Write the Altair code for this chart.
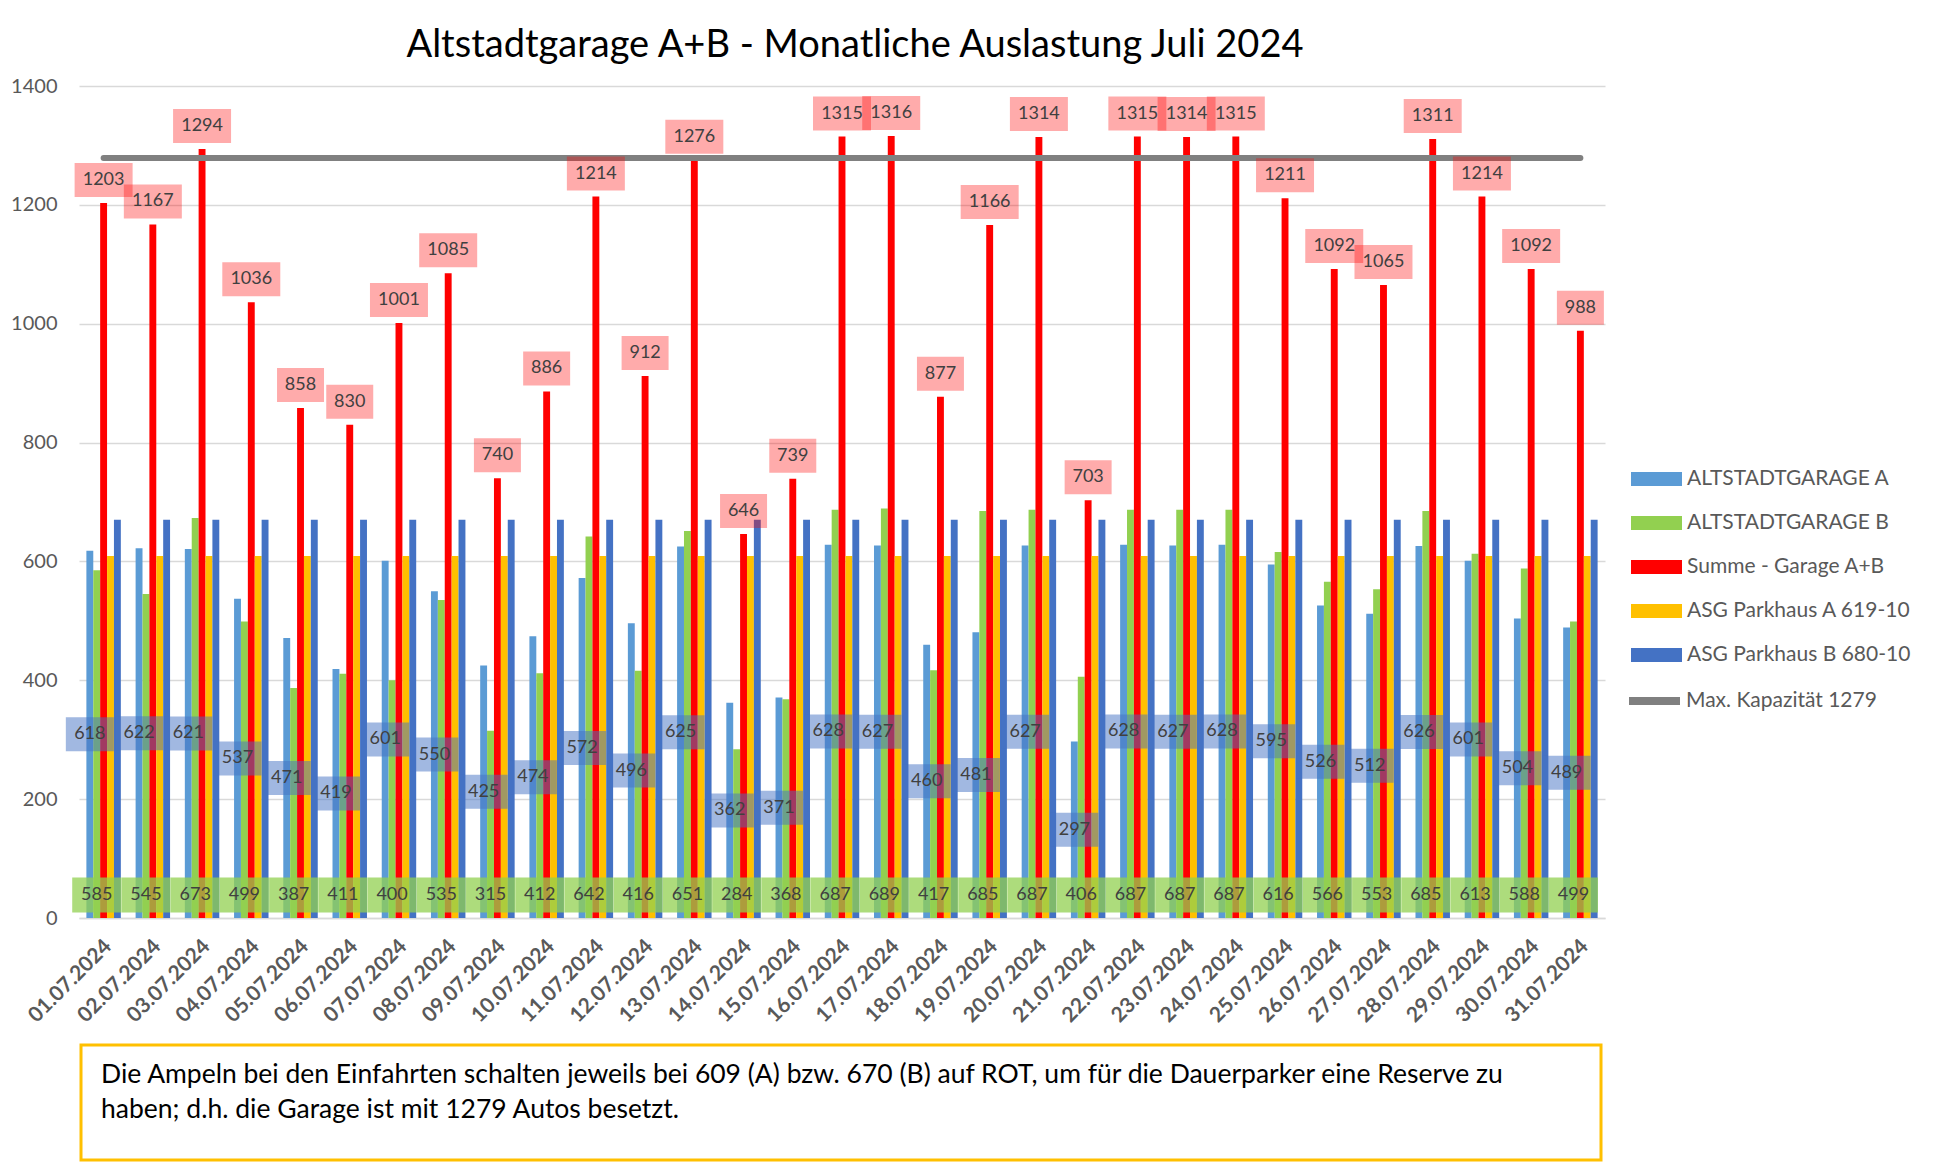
import altair as alt
import pandas as pd

dates = ["01.07.2024", "02.07.2024", "03.07.2024", "04.07.2024", "05.07.2024",
         "06.07.2024", "07.07.2024", "08.07.2024", "09.07.2024", "10.07.2024",
         "11.07.2024", "12.07.2024", "13.07.2024", "14.07.2024", "15.07.2024",
         "16.07.2024", "17.07.2024", "18.07.2024", "19.07.2024", "20.07.2024",
         "21.07.2024", "22.07.2024", "23.07.2024", "24.07.2024", "25.07.2024",
         "26.07.2024", "27.07.2024", "28.07.2024", "29.07.2024", "30.07.2024",
         "31.07.2024"]
garage_a = [618, 622, 621, 537, 471, 419, 601, 550, 425, 474, 572, 496, 625, 362, 371,
            628, 627, 460, 481, 627, 297, 628, 627, 628, 595, 526, 512, 626, 601, 504, 489]
garage_b = [585, 545, 673, 499, 387, 411, 400, 535, 315, 412, 642, 416, 651, 284, 368,
            687, 689, 417, 685, 687, 406, 687, 687, 687, 616, 566, 553, 685, 613, 588, 499]
summe = [1203, 1167, 1294, 1036, 858, 830, 1001, 1085, 740, 886, 1214, 912, 1276, 646, 739,
         1315, 1316, 877, 1166, 1314, 703, 1315, 1314, 1315, 1211, 1092, 1065, 1311, 1214, 1092, 988]
parkhaus_a = [609, 609, 609, 609, 609, 609, 609, 609, 609, 609, 609, 609, 609, 609, 609,
              609, 609, 609, 609, 609, 609, 609, 609, 609, 609, 609, 609, 609, 609, 609, 609]
parkhaus_b = [670, 670, 670, 670, 670, 670, 670, 670, 670, 670, 670, 670, 670, 670, 670,
              670, 670, 670, 670, 670, 670, 670, 670, 670, 670, 670, 670, 670, 670, 670, 670]
kapazitaet = [1279, 1279, 1279, 1279, 1279, 1279, 1279, 1279, 1279, 1279, 1279, 1279, 1279, 1279, 1279,
              1279, 1279, 1279, 1279, 1279, 1279, 1279, 1279, 1279, 1279, 1279, 1279, 1279, 1279, 1279, 1279]

series_names = ["ALTSTADTGARAGE A", "ALTSTADTGARAGE B", "Summe - Garage A+B",
                "ASG Parkhaus A 619-10", "ASG Parkhaus B 680-10"]
bar_colors = ["#5B9BD5", "#92D050", "#FF0000", "#FFC000", "#4472C4"]
cap_name = "Max. Kapazität 1279"
y_ticks = [0, 200, 400, 600, 800, 1000, 1200, 1400]

title_text = "Altstadtgarage A+B - Monatliche Auslastung Juli 2024"
note_lines = ["Die Ampeln bei den Einfahrten schalten jeweils bei 609 (A) bzw. 670 (B) auf ROT, um für die Dauerparker eine Reserve zu",
              "haben; d.h. die Garage ist mit 1279 Autos besetzt."]

FONT = "Lato"
W, H = 1526, 832

rows = []
for i, d in enumerate(dates):
    for name, vals in zip(series_names, [garage_a, garage_b, summe, parkhaus_a, parkhaus_b]):
        rows.append({"date": d, "series": name, "value": vals[i]})
long_df = pd.DataFrame(rows)
cap_df = pd.DataFrame({"date": dates, "cap": kapazitaet, "lbl": [cap_name] * len(dates)})

x_enc = alt.X("date:N", sort=dates, title=None,
              scale=alt.Scale(paddingInner=0.3, paddingOuter=0.15),
              axis=alt.Axis(labelAngle=-45, labelFontWeight="bold", labelFontSize=21,
                            labelColor="#595959", labelFont=FONT, ticks=False,
                            domainColor="#D9D9D9", domainWidth=1.5, labelPadding=17,
                            labelOffset=-3, grid=False))
xo_enc = alt.XOffset("series:N", sort=series_names, scale=alt.Scale(domain=series_names))
y_scale = alt.Scale(domain=[0, 1400], nice=False)
y_axis = alt.Axis(values=y_ticks, format="d", labelFontSize=20, labelColor="#595959",
                  labelFont=FONT, ticks=False, domain=False, gridColor="#D9D9D9",
                  gridWidth=1.3, labelPadding=22)

bar_path = "M-1,-0.47L2.4,-0.47L2.4,0.47L-1,0.47Z"
line_path = "M-1,0L2.4,0"

bars = alt.Chart(long_df).mark_bar().encode(
    x=x_enc,
    xOffset=xo_enc,
    y=alt.Y("value:Q", scale=y_scale, axis=y_axis, title=None),
    color=alt.Color("series:N", sort=series_names,
                    scale=alt.Scale(domain=series_names, range=bar_colors),
                    legend=alt.Legend(title=None, orient="none", legendX=1552, legendY=378,
                                      symbolType=bar_path, symbolSize=900,
                                      symbolStrokeWidth=0, symbolOpacity=1,
                                      labelOffset=26, rowPadding=19, padding=0,
                                      labelFontSize=21, labelFont=FONT,
                                      labelColor="#595959", labelLimit=400)),
)

cap_line = alt.Chart(cap_df).mark_line(strokeWidth=6, strokeCap="round").encode(
    x=x_enc,
    y=alt.Y("cap:Q", scale=y_scale, title=None),
    stroke=alt.Stroke("lbl:N", scale=alt.Scale(domain=[cap_name], range=["#808080"]),
                      legend=alt.Legend(title=None, orient="none", legendX=1546, legendY=596,
                                        symbolType=line_path, symbolSize=900,
                                        symbolStrokeWidth=8, symbolOpacity=1,
                                        labelOffset=23, padding=0,
                                        labelFontSize=21, labelFont=FONT,
                                        labelColor="#595959", labelLimit=400)),
)

# Sum labels (pink boxes above red bars)
p4 = "M-2.9,-1.7L2.9,-1.7L2.9,1.7L-2.9,1.7Z"
p3 = "M-2.35,-1.7L2.35,-1.7L2.35,1.7L-2.35,1.7Z"
sum_base = alt.Chart(long_df).transform_filter(alt.datum.series == series_names[2])
sum_box = sum_base.mark_point(filled=True, color="#FF0000", opacity=0.33, strokeWidth=0,
                              size=400, yOffset=-23).encode(
    x=x_enc,
    y=alt.Y("value:Q", scale=y_scale, title=None),
    shape=alt.condition(alt.datum.value >= 1000, alt.value(p4), alt.value(p3)),
)
sum_txt = sum_base.mark_text(fontSize=18, font=FONT, color="#404040", yOffset=-23).encode(
    x=x_enc,
    y=alt.Y("value:Q", scale=y_scale, title=None),
    text="value:Q",
)

# A labels (blue boxes at bar middle)
pa = "M-2.4,-1.7L2.4,-1.7L2.4,1.7L-2.4,1.7Z"
a_base = alt.Chart(long_df).transform_filter(alt.datum.series == series_names[0]) \
    .transform_calculate(mid="datum.value / 2")
a_box = a_base.mark_point(filled=True, color="#4472C4", opacity=0.5, strokeWidth=0,
                          size=400, shape=pa).encode(
    x=x_enc, xOffset=xo_enc,
    y=alt.Y("mid:Q", scale=y_scale, title=None),
)
a_txt = a_base.mark_text(fontSize=18, font=FONT, color="#404040").encode(
    x=x_enc, xOffset=xo_enc,
    y=alt.Y("mid:Q", scale=y_scale, title=None),
    text="value:Q",
)

# B labels (green boxes at bar base)
pb = "M-2.45,-1.75L2.45,-1.75L2.45,1.75L-2.45,1.75Z"
b_base = alt.Chart(long_df).transform_filter(alt.datum.series == series_names[1]) \
    .transform_calculate(base="0")
b_box = b_base.mark_point(filled=True, color="#92D050", opacity=0.75, strokeWidth=0,
                          size=400, shape=pb, yOffset=-23).encode(
    x=x_enc, xOffset=xo_enc,
    y=alt.Y("base:Q", scale=y_scale, title=None),
)
b_txt = b_base.mark_text(fontSize=18, font=FONT, color="#404040", yOffset=-23).encode(
    x=x_enc, xOffset=xo_enc,
    y=alt.Y("base:Q", scale=y_scale, title=None),
    text="value:Q",
)

# Note box below the chart
note_df = pd.DataFrame({"k": [0]})
note_box = alt.Chart(note_df).mark_rect(fill="white", stroke="#FFC000", strokeWidth=3).encode(
    x=alt.value(2), x2=alt.value(1522), y=alt.value(959), y2=alt.value(1074))
note_txt = alt.Chart(note_df).mark_text(text=note_lines, align="left", baseline="top",
                                        fontSize=26.5, font=FONT, color="#000000",
                                        lineHeight=35).encode(
    x=alt.value(22), y=alt.value(976))

chart = alt.layer(bars, cap_line, sum_box, sum_txt, a_box, a_txt, b_box, b_txt,
                  note_box, note_txt).properties(
    width=W, height=H,
    title=alt.TitleParams(title_text, font=FONT, fontSize=38, fontWeight="normal",
                          color="#000000", anchor="middle", frame="group", dx=13,
                          baseline="alphabetic", offset=-19),
    autosize=alt.AutoSizeParams(type="none"),
    padding={"left": 71, "top": 78, "right": 315, "bottom": 246},
).configure_view(stroke=None).resolve_scale(shape="independent")

chart.save("out.html", embed_options={"renderer": "svg", "actions": False})
